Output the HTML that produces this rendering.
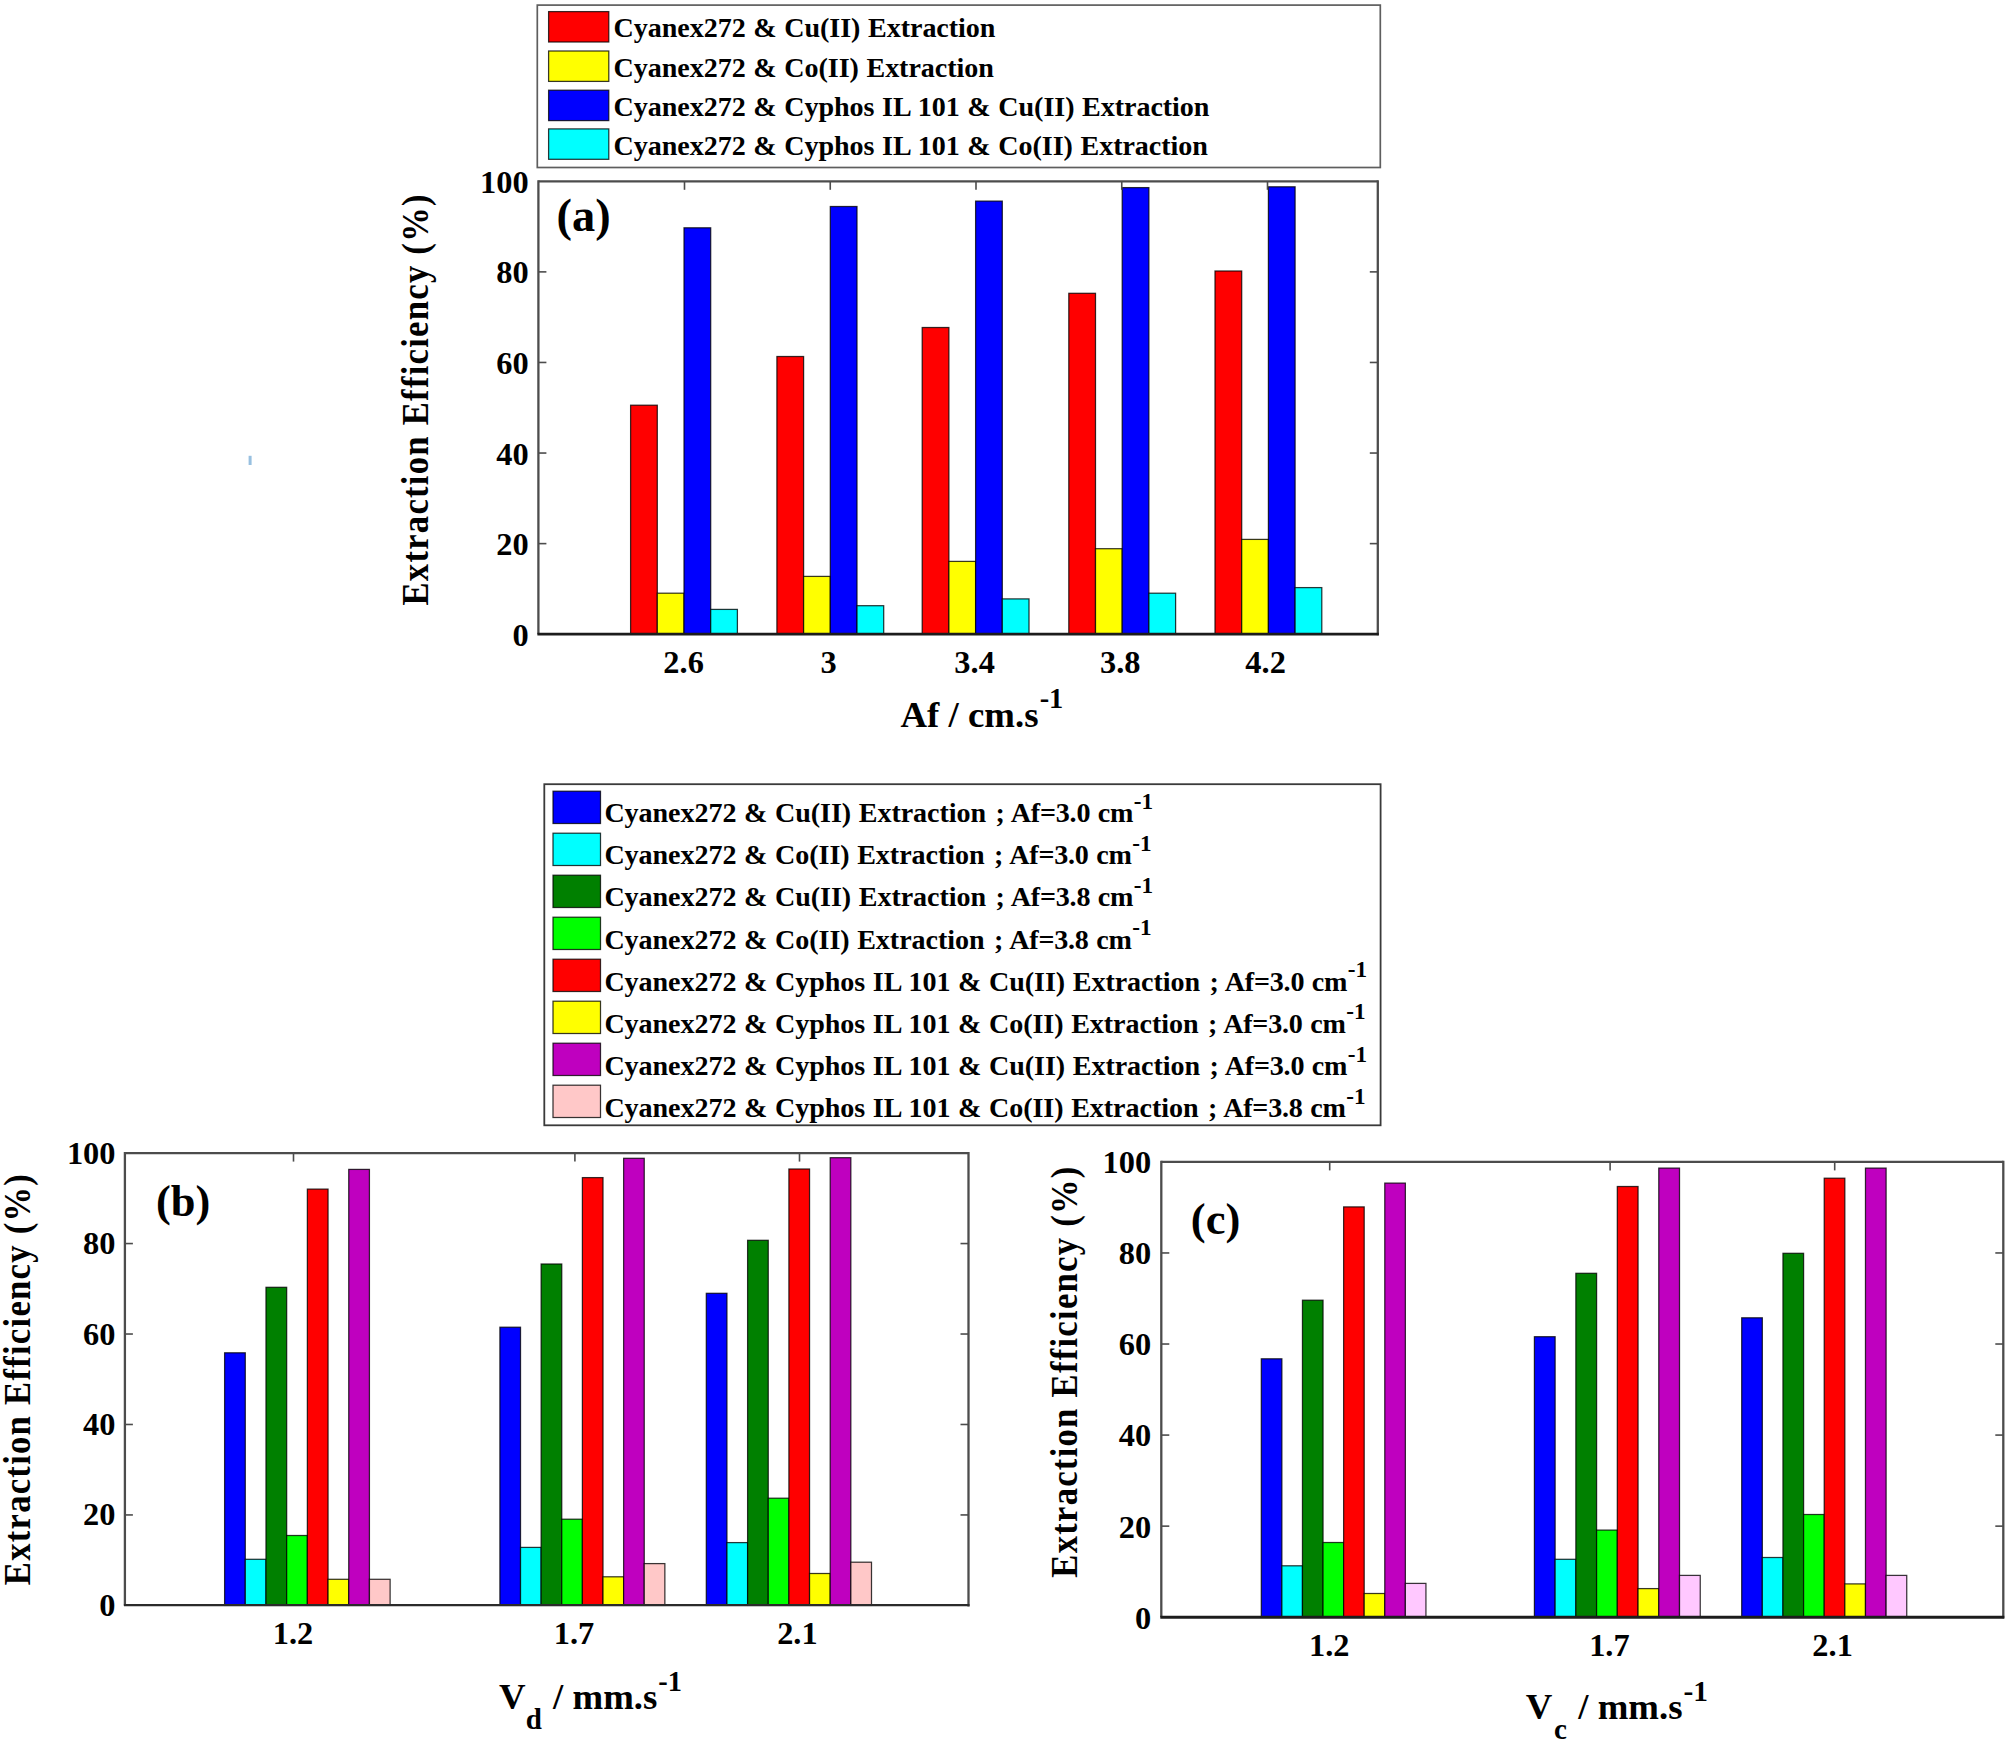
<!DOCTYPE html>
<html lang="en"><head><meta charset="utf-8"><title>Extraction Efficiency</title>
<style>html,body{margin:0;padding:0;background:#fff}body{width:2007px;height:1743px;overflow:hidden}svg{display:block}text{font-family:'Liberation Serif',serif;font-weight:bold;fill:#000}</style>
</head><body>
<svg width="2007" height="1743" viewBox="0 0 2007 1743">
<rect x="0" y="0" width="2007" height="1743" fill="#fff"/>
<rect x="248.6" y="455.8" width="3" height="9.2" fill="#8db9dd" opacity="0.9"/>
<rect x="537.3" y="5.1" width="843.00" height="162.40" stroke="#5e5e5e" stroke-width="1.7" fill="#fff"/>
<rect x="548.60" y="11.60" width="60.20" height="30.40" fill="#ff0000" stroke="#000" stroke-opacity="0.78" stroke-width="1.25"/>
<text x="613.60" y="37.00" font-size="28.08" text-anchor="start" word-spacing="0.7" letter-spacing="-0.06">Cyanex272 &amp; Cu(II) Extraction</text>
<rect x="548.60" y="51.00" width="60.20" height="30.40" fill="#ffff00" stroke="#000" stroke-opacity="0.78" stroke-width="1.25"/>
<text x="613.60" y="76.60" font-size="28.08" text-anchor="start" word-spacing="0.7" letter-spacing="-0.06">Cyanex272 &amp; Co(II) Extraction</text>
<rect x="548.60" y="90.20" width="60.20" height="30.40" fill="#0000ff" stroke="#000" stroke-opacity="0.78" stroke-width="1.25"/>
<text x="613.60" y="115.90" font-size="28.08" text-anchor="start" word-spacing="0.7" letter-spacing="-0.06">Cyanex272 &amp; Cyphos IL 101 &amp; Cu(II) Extraction</text>
<rect x="548.60" y="128.90" width="60.20" height="30.40" fill="#00ffff" stroke="#000" stroke-opacity="0.78" stroke-width="1.25"/>
<text x="613.60" y="155.20" font-size="28.08" text-anchor="start" word-spacing="0.7" letter-spacing="-0.06">Cyanex272 &amp; Cyphos IL 101 &amp; Co(II) Extraction</text>
<rect x="630.60" y="405.20" width="26.70" height="229.00" fill="#ff0000" stroke="#000" stroke-opacity="0.78" stroke-width="1.25"/>
<rect x="657.30" y="593.20" width="26.70" height="41.00" fill="#ffff00" stroke="#000" stroke-opacity="0.78" stroke-width="1.25"/>
<rect x="684.00" y="227.80" width="26.70" height="406.40" fill="#0000ff" stroke="#000" stroke-opacity="0.78" stroke-width="1.25"/>
<rect x="710.70" y="609.40" width="26.70" height="24.80" fill="#00ffff" stroke="#000" stroke-opacity="0.78" stroke-width="1.25"/>
<rect x="776.90" y="356.50" width="26.70" height="277.70" fill="#ff0000" stroke="#000" stroke-opacity="0.78" stroke-width="1.25"/>
<rect x="803.60" y="576.40" width="26.70" height="57.80" fill="#ffff00" stroke="#000" stroke-opacity="0.78" stroke-width="1.25"/>
<rect x="830.30" y="206.50" width="26.70" height="427.70" fill="#0000ff" stroke="#000" stroke-opacity="0.78" stroke-width="1.25"/>
<rect x="857.00" y="605.70" width="26.70" height="28.50" fill="#00ffff" stroke="#000" stroke-opacity="0.78" stroke-width="1.25"/>
<rect x="922.20" y="327.50" width="26.70" height="306.70" fill="#ff0000" stroke="#000" stroke-opacity="0.78" stroke-width="1.25"/>
<rect x="948.90" y="561.40" width="26.70" height="72.80" fill="#ffff00" stroke="#000" stroke-opacity="0.78" stroke-width="1.25"/>
<rect x="975.60" y="201.10" width="26.70" height="433.10" fill="#0000ff" stroke="#000" stroke-opacity="0.78" stroke-width="1.25"/>
<rect x="1002.30" y="598.90" width="26.70" height="35.30" fill="#00ffff" stroke="#000" stroke-opacity="0.78" stroke-width="1.25"/>
<rect x="1068.80" y="293.30" width="26.70" height="340.90" fill="#ff0000" stroke="#000" stroke-opacity="0.78" stroke-width="1.25"/>
<rect x="1095.50" y="548.70" width="26.70" height="85.50" fill="#ffff00" stroke="#000" stroke-opacity="0.78" stroke-width="1.25"/>
<rect x="1122.20" y="187.60" width="26.70" height="446.60" fill="#0000ff" stroke="#000" stroke-opacity="0.78" stroke-width="1.25"/>
<rect x="1148.90" y="593.20" width="26.70" height="41.00" fill="#00ffff" stroke="#000" stroke-opacity="0.78" stroke-width="1.25"/>
<rect x="1215.00" y="271.00" width="26.70" height="363.20" fill="#ff0000" stroke="#000" stroke-opacity="0.78" stroke-width="1.25"/>
<rect x="1241.70" y="539.40" width="26.70" height="94.80" fill="#ffff00" stroke="#000" stroke-opacity="0.78" stroke-width="1.25"/>
<rect x="1268.40" y="186.80" width="26.70" height="447.40" fill="#0000ff" stroke="#000" stroke-opacity="0.78" stroke-width="1.25"/>
<rect x="1295.10" y="587.60" width="26.70" height="46.60" fill="#00ffff" stroke="#000" stroke-opacity="0.78" stroke-width="1.25"/>
<line x1="538.40" y1="181.30" x2="1377.80" y2="181.30" stroke="#4c4c4c" stroke-width="2.3"/>
<line x1="538.40" y1="180.20" x2="538.40" y2="634.20" stroke="#4c4c4c" stroke-width="2.3"/>
<line x1="1377.80" y1="180.20" x2="1377.80" y2="635.20" stroke="#4c4c4c" stroke-width="2.3"/>
<text x="528.60" y="645.80" font-size="32.4" text-anchor="end" >0</text>
<line x1="538.40" y1="543.62" x2="546.40" y2="543.62" stroke="#4c4c4c" stroke-width="1.6"/>
<line x1="1369.80" y1="543.62" x2="1377.80" y2="543.62" stroke="#4c4c4c" stroke-width="1.6"/>
<text x="528.60" y="555.22" font-size="32.4" text-anchor="end" >20</text>
<line x1="538.40" y1="453.04" x2="546.40" y2="453.04" stroke="#4c4c4c" stroke-width="1.6"/>
<line x1="1369.80" y1="453.04" x2="1377.80" y2="453.04" stroke="#4c4c4c" stroke-width="1.6"/>
<text x="528.60" y="464.64" font-size="32.4" text-anchor="end" >40</text>
<line x1="538.40" y1="362.46" x2="546.40" y2="362.46" stroke="#4c4c4c" stroke-width="1.6"/>
<line x1="1369.80" y1="362.46" x2="1377.80" y2="362.46" stroke="#4c4c4c" stroke-width="1.6"/>
<text x="528.60" y="374.06" font-size="32.4" text-anchor="end" >60</text>
<line x1="538.40" y1="271.88" x2="546.40" y2="271.88" stroke="#4c4c4c" stroke-width="1.6"/>
<line x1="1369.80" y1="271.88" x2="1377.80" y2="271.88" stroke="#4c4c4c" stroke-width="1.6"/>
<text x="528.60" y="283.48" font-size="32.4" text-anchor="end" >80</text>
<text x="528.60" y="192.90" font-size="32.4" text-anchor="end" >100</text>
<line x1="684.50" y1="181.30" x2="684.50" y2="189.80" stroke="#4c4c4c" stroke-width="1.6"/>
<line x1="830.25" y1="181.30" x2="830.25" y2="189.80" stroke="#4c4c4c" stroke-width="1.6"/>
<line x1="976.00" y1="181.30" x2="976.00" y2="189.80" stroke="#4c4c4c" stroke-width="1.6"/>
<line x1="1121.75" y1="181.30" x2="1121.75" y2="189.80" stroke="#4c4c4c" stroke-width="1.6"/>
<line x1="1267.50" y1="181.30" x2="1267.50" y2="189.80" stroke="#4c4c4c" stroke-width="1.6"/>
<text x="683.60" y="673.00" font-size="32.4" text-anchor="middle" >2.6</text>
<text x="828.60" y="673.00" font-size="32.4" text-anchor="middle" >3</text>
<text x="974.60" y="673.00" font-size="32.4" text-anchor="middle" >3.4</text>
<text x="1120.20" y="673.00" font-size="32.4" text-anchor="middle" >3.8</text>
<text x="1265.60" y="673.00" font-size="32.4" text-anchor="middle" >4.2</text>
<line x1="537.40" y1="634.20" x2="1378.80" y2="634.20" stroke="#1c1c1c" stroke-width="2.7"/>
<text transform="translate(427.70,605.50) rotate(-90) scale(0.94,1.035)" font-size="36.8" textLength="437.3" lengthAdjust="spacing">Extraction Efficiency (%)</text>
<text x="556.50" y="230.90" font-size="46.4" text-anchor="start" >(a)</text>
<text x="900.5" y="727.2" font-size="36.8">Af / cm.s<tspan font-size="28.4" dy="-18.9" dx="1.2">-1</tspan></text>
<rect x="544.3" y="784.2" width="836.30" height="341.10" stroke="#3a3a3a" stroke-width="1.8" fill="#fff"/>
<rect x="553.00" y="791.20" width="47.50" height="32.30" fill="#0000ff" stroke="#000" stroke-opacity="0.78" stroke-width="1.25"/>
<text x="604.4" y="822.30" font-size="28.08" word-spacing="0.68" letter-spacing="-0.06">Cyanex272 &amp; Cu(II) Extraction<tspan dx="1.8"> ;</tspan><tspan letter-spacing="-0.2" dx="0"> Af=3.0 cm</tspan><tspan font-size="23.2" dy="-13.2" dx="0.6" letter-spacing="0">-1</tspan></text>
<rect x="553.00" y="833.20" width="47.50" height="32.30" fill="#00ffff" stroke="#000" stroke-opacity="0.78" stroke-width="1.25"/>
<text x="604.4" y="864.37" font-size="28.08" word-spacing="0.68" letter-spacing="-0.06">Cyanex272 &amp; Co(II) Extraction<tspan dx="1.8"> ;</tspan><tspan letter-spacing="-0.2" dx="0"> Af=3.0 cm</tspan><tspan font-size="23.2" dy="-13.2" dx="0.6" letter-spacing="0">-1</tspan></text>
<rect x="553.00" y="875.20" width="47.50" height="32.30" fill="#008000" stroke="#000" stroke-opacity="0.78" stroke-width="1.25"/>
<text x="604.4" y="906.44" font-size="28.08" word-spacing="0.68" letter-spacing="-0.06">Cyanex272 &amp; Cu(II) Extraction<tspan dx="1.8"> ;</tspan><tspan letter-spacing="-0.2" dx="0"> Af=3.8 cm</tspan><tspan font-size="23.2" dy="-13.2" dx="0.6" letter-spacing="0">-1</tspan></text>
<rect x="553.00" y="917.20" width="47.50" height="32.30" fill="#00ff00" stroke="#000" stroke-opacity="0.78" stroke-width="1.25"/>
<text x="604.4" y="948.51" font-size="28.08" word-spacing="0.68" letter-spacing="-0.06">Cyanex272 &amp; Co(II) Extraction<tspan dx="1.8"> ;</tspan><tspan letter-spacing="-0.2" dx="0"> Af=3.8 cm</tspan><tspan font-size="23.2" dy="-13.2" dx="0.6" letter-spacing="0">-1</tspan></text>
<rect x="553.00" y="959.20" width="47.50" height="32.30" fill="#ff0000" stroke="#000" stroke-opacity="0.78" stroke-width="1.25"/>
<text x="604.4" y="990.58" font-size="28.08" word-spacing="0.68" letter-spacing="-0.06">Cyanex272 &amp; Cyphos IL 101 &amp; Cu(II) Extraction<tspan dx="1.8"> ;</tspan><tspan letter-spacing="-0.2" dx="0"> Af=3.0 cm</tspan><tspan font-size="23.2" dy="-13.2" dx="0.6" letter-spacing="0">-1</tspan></text>
<rect x="553.00" y="1001.20" width="47.50" height="32.30" fill="#ffff00" stroke="#000" stroke-opacity="0.78" stroke-width="1.25"/>
<text x="604.4" y="1032.65" font-size="28.08" word-spacing="0.68" letter-spacing="-0.06">Cyanex272 &amp; Cyphos IL 101 &amp; Co(II) Extraction<tspan dx="1.8"> ;</tspan><tspan letter-spacing="-0.2" dx="0"> Af=3.0 cm</tspan><tspan font-size="23.2" dy="-13.2" dx="0.6" letter-spacing="0">-1</tspan></text>
<rect x="553.00" y="1043.20" width="47.50" height="32.30" fill="#bf00bf" stroke="#000" stroke-opacity="0.78" stroke-width="1.25"/>
<text x="604.4" y="1074.72" font-size="28.08" word-spacing="0.68" letter-spacing="-0.06">Cyanex272 &amp; Cyphos IL 101 &amp; Cu(II) Extraction<tspan dx="1.8"> ;</tspan><tspan letter-spacing="-0.2" dx="0"> Af=3.0 cm</tspan><tspan font-size="23.2" dy="-13.2" dx="0.6" letter-spacing="0">-1</tspan></text>
<rect x="553.00" y="1085.20" width="47.50" height="32.30" fill="#ffc8c8" stroke="#000" stroke-opacity="0.78" stroke-width="1.25"/>
<text x="604.4" y="1116.79" font-size="28.08" word-spacing="0.68" letter-spacing="-0.06">Cyanex272 &amp; Cyphos IL 101 &amp; Co(II) Extraction<tspan dx="1.8"> ;</tspan><tspan letter-spacing="-0.2" dx="0"> Af=3.8 cm</tspan><tspan font-size="23.2" dy="-13.2" dx="0.6" letter-spacing="0">-1</tspan></text>
<rect x="224.60" y="1352.80" width="20.69" height="252.60" fill="#0000ff" stroke="#000" stroke-opacity="0.78" stroke-width="1.25"/>
<rect x="245.29" y="1559.30" width="20.69" height="46.10" fill="#00ffff" stroke="#000" stroke-opacity="0.78" stroke-width="1.25"/>
<rect x="265.98" y="1287.30" width="20.69" height="318.10" fill="#008000" stroke="#000" stroke-opacity="0.78" stroke-width="1.25"/>
<rect x="286.67" y="1535.50" width="20.69" height="69.90" fill="#00ff00" stroke="#000" stroke-opacity="0.78" stroke-width="1.25"/>
<rect x="307.36" y="1189.10" width="20.69" height="416.30" fill="#ff0000" stroke="#000" stroke-opacity="0.78" stroke-width="1.25"/>
<rect x="328.05" y="1579.30" width="20.69" height="26.10" fill="#ffff00" stroke="#000" stroke-opacity="0.78" stroke-width="1.25"/>
<rect x="348.74" y="1169.40" width="20.69" height="436.00" fill="#bf00bf" stroke="#000" stroke-opacity="0.78" stroke-width="1.25"/>
<rect x="369.43" y="1579.30" width="20.69" height="26.10" fill="#ffc8c8" stroke="#000" stroke-opacity="0.78" stroke-width="1.25"/>
<rect x="499.90" y="1327.20" width="20.62" height="278.20" fill="#0000ff" stroke="#000" stroke-opacity="0.78" stroke-width="1.25"/>
<rect x="520.52" y="1547.40" width="20.62" height="58.00" fill="#00ffff" stroke="#000" stroke-opacity="0.78" stroke-width="1.25"/>
<rect x="541.14" y="1264.00" width="20.62" height="341.40" fill="#008000" stroke="#000" stroke-opacity="0.78" stroke-width="1.25"/>
<rect x="561.76" y="1519.20" width="20.62" height="86.20" fill="#00ff00" stroke="#000" stroke-opacity="0.78" stroke-width="1.25"/>
<rect x="582.38" y="1177.60" width="20.62" height="427.80" fill="#ff0000" stroke="#000" stroke-opacity="0.78" stroke-width="1.25"/>
<rect x="603.00" y="1576.80" width="20.62" height="28.60" fill="#ffff00" stroke="#000" stroke-opacity="0.78" stroke-width="1.25"/>
<rect x="623.62" y="1158.30" width="20.62" height="447.10" fill="#bf00bf" stroke="#000" stroke-opacity="0.78" stroke-width="1.25"/>
<rect x="644.24" y="1563.60" width="20.62" height="41.80" fill="#ffc8c8" stroke="#000" stroke-opacity="0.78" stroke-width="1.25"/>
<rect x="706.30" y="1293.30" width="20.65" height="312.10" fill="#0000ff" stroke="#000" stroke-opacity="0.78" stroke-width="1.25"/>
<rect x="726.95" y="1542.60" width="20.65" height="62.80" fill="#00ffff" stroke="#000" stroke-opacity="0.78" stroke-width="1.25"/>
<rect x="747.60" y="1240.30" width="20.65" height="365.10" fill="#008000" stroke="#000" stroke-opacity="0.78" stroke-width="1.25"/>
<rect x="768.25" y="1498.20" width="20.65" height="107.20" fill="#00ff00" stroke="#000" stroke-opacity="0.78" stroke-width="1.25"/>
<rect x="788.90" y="1169.00" width="20.65" height="436.40" fill="#ff0000" stroke="#000" stroke-opacity="0.78" stroke-width="1.25"/>
<rect x="809.55" y="1573.50" width="20.65" height="31.90" fill="#ffff00" stroke="#000" stroke-opacity="0.78" stroke-width="1.25"/>
<rect x="830.20" y="1157.70" width="20.65" height="447.70" fill="#bf00bf" stroke="#000" stroke-opacity="0.78" stroke-width="1.25"/>
<rect x="850.85" y="1562.20" width="20.65" height="43.20" fill="#ffc8c8" stroke="#000" stroke-opacity="0.78" stroke-width="1.25"/>
<line x1="124.90" y1="1153.10" x2="968.50" y2="1153.10" stroke="#4c4c4c" stroke-width="2.3"/>
<line x1="124.90" y1="1152.00" x2="124.90" y2="1605.40" stroke="#4c4c4c" stroke-width="2.3"/>
<line x1="968.50" y1="1152.00" x2="968.50" y2="1606.40" stroke="#4c4c4c" stroke-width="2.3"/>
<text x="115.50" y="1615.90" font-size="32.4" text-anchor="end" >0</text>
<line x1="124.90" y1="1514.94" x2="132.90" y2="1514.94" stroke="#4c4c4c" stroke-width="1.6"/>
<line x1="960.50" y1="1514.94" x2="968.50" y2="1514.94" stroke="#4c4c4c" stroke-width="1.6"/>
<text x="115.50" y="1525.44" font-size="32.4" text-anchor="end" >20</text>
<line x1="124.90" y1="1424.48" x2="132.90" y2="1424.48" stroke="#4c4c4c" stroke-width="1.6"/>
<line x1="960.50" y1="1424.48" x2="968.50" y2="1424.48" stroke="#4c4c4c" stroke-width="1.6"/>
<text x="115.50" y="1434.98" font-size="32.4" text-anchor="end" >40</text>
<line x1="124.90" y1="1334.02" x2="132.90" y2="1334.02" stroke="#4c4c4c" stroke-width="1.6"/>
<line x1="960.50" y1="1334.02" x2="968.50" y2="1334.02" stroke="#4c4c4c" stroke-width="1.6"/>
<text x="115.50" y="1344.52" font-size="32.4" text-anchor="end" >60</text>
<line x1="124.90" y1="1243.56" x2="132.90" y2="1243.56" stroke="#4c4c4c" stroke-width="1.6"/>
<line x1="960.50" y1="1243.56" x2="968.50" y2="1243.56" stroke="#4c4c4c" stroke-width="1.6"/>
<text x="115.50" y="1254.06" font-size="32.4" text-anchor="end" >80</text>
<text x="115.50" y="1163.60" font-size="32.4" text-anchor="end" >100</text>
<line x1="293.50" y1="1153.10" x2="293.50" y2="1161.60" stroke="#4c4c4c" stroke-width="1.6"/>
<line x1="574.90" y1="1153.10" x2="574.90" y2="1161.60" stroke="#4c4c4c" stroke-width="1.6"/>
<line x1="799.50" y1="1153.10" x2="799.50" y2="1161.60" stroke="#4c4c4c" stroke-width="1.6"/>
<text x="293.00" y="1643.80" font-size="32.4" text-anchor="middle" >1.2</text>
<text x="574.00" y="1643.80" font-size="32.4" text-anchor="middle" >1.7</text>
<text x="797.40" y="1643.80" font-size="32.4" text-anchor="middle" >2.1</text>
<line x1="123.90" y1="1605.20" x2="969.50" y2="1605.20" stroke="#2b2b2b" stroke-width="2.2"/>
<text transform="translate(30.00,1585.20) rotate(-90) scale(0.94,1.035)" font-size="36.8" textLength="437.3" lengthAdjust="spacing">Extraction Efficiency (%)</text>
<text x="156.00" y="1215.50" font-size="44.4" text-anchor="start" >(b)</text>
<text x="499.0" y="1709.3" font-size="36.8">V<tspan font-size="29" dy="19.2" dx="0.2">d</tspan><tspan dy="-19.2" dx="2.0"> / mm.s</tspan><tspan font-size="28.4" dy="-18.8" dx="0.9">-1</tspan></text>
<rect x="1261.30" y="1358.80" width="20.58" height="258.40" fill="#0000ff" stroke="#000" stroke-opacity="0.78" stroke-width="1.25"/>
<rect x="1281.88" y="1565.80" width="20.58" height="51.40" fill="#00ffff" stroke="#000" stroke-opacity="0.78" stroke-width="1.25"/>
<rect x="1302.46" y="1300.20" width="20.58" height="317.00" fill="#008000" stroke="#000" stroke-opacity="0.78" stroke-width="1.25"/>
<rect x="1323.04" y="1542.50" width="20.58" height="74.70" fill="#00ff00" stroke="#000" stroke-opacity="0.78" stroke-width="1.25"/>
<rect x="1343.62" y="1206.90" width="20.58" height="410.30" fill="#ff0000" stroke="#000" stroke-opacity="0.78" stroke-width="1.25"/>
<rect x="1364.20" y="1593.50" width="20.58" height="23.70" fill="#ffff00" stroke="#000" stroke-opacity="0.78" stroke-width="1.25"/>
<rect x="1384.78" y="1183.10" width="20.58" height="434.10" fill="#bf00bf" stroke="#000" stroke-opacity="0.78" stroke-width="1.25"/>
<rect x="1405.36" y="1583.40" width="20.58" height="33.80" fill="#ffc8ff" stroke="#000" stroke-opacity="0.78" stroke-width="1.25"/>
<rect x="1534.40" y="1336.70" width="20.73" height="280.50" fill="#0000ff" stroke="#000" stroke-opacity="0.78" stroke-width="1.25"/>
<rect x="1555.13" y="1559.30" width="20.73" height="57.90" fill="#00ffff" stroke="#000" stroke-opacity="0.78" stroke-width="1.25"/>
<rect x="1575.86" y="1273.30" width="20.73" height="343.90" fill="#008000" stroke="#000" stroke-opacity="0.78" stroke-width="1.25"/>
<rect x="1596.59" y="1530.10" width="20.73" height="87.10" fill="#00ff00" stroke="#000" stroke-opacity="0.78" stroke-width="1.25"/>
<rect x="1617.32" y="1186.50" width="20.73" height="430.70" fill="#ff0000" stroke="#000" stroke-opacity="0.78" stroke-width="1.25"/>
<rect x="1638.05" y="1588.60" width="20.73" height="28.60" fill="#ffff00" stroke="#000" stroke-opacity="0.78" stroke-width="1.25"/>
<rect x="1658.78" y="1168.10" width="20.73" height="449.10" fill="#bf00bf" stroke="#000" stroke-opacity="0.78" stroke-width="1.25"/>
<rect x="1679.51" y="1575.40" width="20.73" height="41.80" fill="#ffc8ff" stroke="#000" stroke-opacity="0.78" stroke-width="1.25"/>
<rect x="1741.70" y="1317.80" width="20.63" height="299.40" fill="#0000ff" stroke="#000" stroke-opacity="0.78" stroke-width="1.25"/>
<rect x="1762.33" y="1557.50" width="20.63" height="59.70" fill="#00ffff" stroke="#000" stroke-opacity="0.78" stroke-width="1.25"/>
<rect x="1782.96" y="1253.30" width="20.63" height="363.90" fill="#008000" stroke="#000" stroke-opacity="0.78" stroke-width="1.25"/>
<rect x="1803.59" y="1514.50" width="20.63" height="102.70" fill="#00ff00" stroke="#000" stroke-opacity="0.78" stroke-width="1.25"/>
<rect x="1824.22" y="1178.20" width="20.63" height="439.00" fill="#ff0000" stroke="#000" stroke-opacity="0.78" stroke-width="1.25"/>
<rect x="1844.85" y="1583.90" width="20.63" height="33.30" fill="#ffff00" stroke="#000" stroke-opacity="0.78" stroke-width="1.25"/>
<rect x="1865.48" y="1168.10" width="20.63" height="449.10" fill="#bf00bf" stroke="#000" stroke-opacity="0.78" stroke-width="1.25"/>
<rect x="1886.11" y="1575.40" width="20.63" height="41.80" fill="#ffc8ff" stroke="#000" stroke-opacity="0.78" stroke-width="1.25"/>
<line x1="1161.30" y1="1161.90" x2="2003.30" y2="1161.90" stroke="#4c4c4c" stroke-width="2.3"/>
<line x1="1161.30" y1="1160.80" x2="1161.30" y2="1617.20" stroke="#4c4c4c" stroke-width="2.3"/>
<line x1="2003.30" y1="1160.80" x2="2003.30" y2="1618.20" stroke="#4c4c4c" stroke-width="2.3"/>
<text x="1151.20" y="1628.60" font-size="32.4" text-anchor="end" >0</text>
<line x1="1161.30" y1="1526.14" x2="1169.30" y2="1526.14" stroke="#4c4c4c" stroke-width="1.6"/>
<line x1="1995.30" y1="1526.14" x2="2003.30" y2="1526.14" stroke="#4c4c4c" stroke-width="1.6"/>
<text x="1151.20" y="1537.54" font-size="32.4" text-anchor="end" >20</text>
<line x1="1161.30" y1="1435.08" x2="1169.30" y2="1435.08" stroke="#4c4c4c" stroke-width="1.6"/>
<line x1="1995.30" y1="1435.08" x2="2003.30" y2="1435.08" stroke="#4c4c4c" stroke-width="1.6"/>
<text x="1151.20" y="1446.48" font-size="32.4" text-anchor="end" >40</text>
<line x1="1161.30" y1="1344.02" x2="1169.30" y2="1344.02" stroke="#4c4c4c" stroke-width="1.6"/>
<line x1="1995.30" y1="1344.02" x2="2003.30" y2="1344.02" stroke="#4c4c4c" stroke-width="1.6"/>
<text x="1151.20" y="1355.42" font-size="32.4" text-anchor="end" >60</text>
<line x1="1161.30" y1="1252.96" x2="1169.30" y2="1252.96" stroke="#4c4c4c" stroke-width="1.6"/>
<line x1="1995.30" y1="1252.96" x2="2003.30" y2="1252.96" stroke="#4c4c4c" stroke-width="1.6"/>
<text x="1151.20" y="1264.36" font-size="32.4" text-anchor="end" >80</text>
<text x="1151.20" y="1173.30" font-size="32.4" text-anchor="end" >100</text>
<line x1="1329.70" y1="1161.90" x2="1329.70" y2="1170.40" stroke="#4c4c4c" stroke-width="1.6"/>
<line x1="1610.10" y1="1161.90" x2="1610.10" y2="1170.40" stroke="#4c4c4c" stroke-width="1.6"/>
<line x1="1834.70" y1="1161.90" x2="1834.70" y2="1170.40" stroke="#4c4c4c" stroke-width="1.6"/>
<text x="1329.20" y="1655.60" font-size="32.4" text-anchor="middle" >1.2</text>
<text x="1609.40" y="1655.60" font-size="32.4" text-anchor="middle" >1.7</text>
<text x="1832.60" y="1655.60" font-size="32.4" text-anchor="middle" >2.1</text>
<line x1="1160.30" y1="1617.20" x2="2004.30" y2="1617.20" stroke="#1c1c1c" stroke-width="3.0"/>
<text transform="translate(1077.30,1577.70) rotate(-90) scale(0.94,1.035)" font-size="36.8" textLength="437.3" lengthAdjust="spacing">Extraction Efficiency (%)</text>
<text x="1190.80" y="1234.00" font-size="44.6" text-anchor="start" >(c)</text>
<text x="1525.8" y="1719.0" font-size="36.8">V<tspan font-size="29" dy="19.5" dx="1.6">c</tspan><tspan dy="-19.5" dx="2.2"> / mm.s</tspan><tspan font-size="29.4" dy="-18.0" dx="1.0">-1</tspan></text>
</svg></body></html>
